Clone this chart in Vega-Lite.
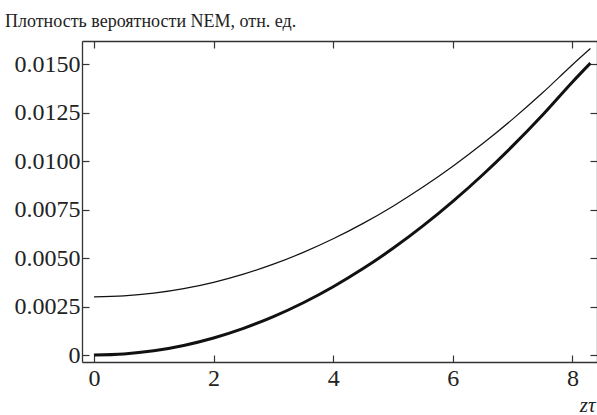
{
  "$schema": "https://vega.github.io/schema/vega-lite/v6.json",
  "width": 515,
  "height": 321,
  "autosize": "none",
  "padding": {"left": 82, "top": 41, "right": 0, "bottom": 53},
  "background": "white",
  "title": {
    "text": "Плотность вероятности NEM, отн. ед.",
    "anchor": "start",
    "frame": "group",
    "dx": -77,
    "offset": -5,
    "baseline": "alphabetic",
    "font": "Liberation Serif",
    "fontSize": 18,
    "fontWeight": "normal",
    "color": "#222"
  },
  "config": {
    "view": {"stroke": null},
    "axis": {
      "grid": false,
      "domainColor": "#333",
      "domainWidth": 1.3,
      "tickColor": "#333",
      "tickWidth": 1.2,
      "tickSize": -7,
      "labelFont": "Liberation Serif",
      "labelFontSize": 24,
      "labelColor": "#222",
      "titleFont": "Liberation Serif",
      "titleFontWeight": "normal",
      "titleColor": "#222"
    }
  },
  "data": {
    "values": [
      {"x": 0, "y": 0, "s": "thick"},
      {"x": 0.5, "y": 0.000055, "s": "thick"},
      {"x": 1, "y": 0.00022, "s": "thick"},
      {"x": 1.5, "y": 0.000495, "s": "thick"},
      {"x": 2, "y": 0.00088, "s": "thick"},
      {"x": 2.5, "y": 0.001375, "s": "thick"},
      {"x": 3, "y": 0.00198, "s": "thick"},
      {"x": 3.5, "y": 0.002695, "s": "thick"},
      {"x": 4, "y": 0.00352, "s": "thick"},
      {"x": 4.5, "y": 0.004455, "s": "thick"},
      {"x": 5, "y": 0.0055, "s": "thick"},
      {"x": 5.5, "y": 0.006655, "s": "thick"},
      {"x": 6, "y": 0.00792, "s": "thick"},
      {"x": 6.5, "y": 0.009295, "s": "thick"},
      {"x": 7, "y": 0.01078, "s": "thick"},
      {"x": 7.5, "y": 0.012375, "s": "thick"},
      {"x": 8, "y": 0.01408, "s": "thick"},
      {"x": 8.3, "y": 0.01505, "s": "thick"},
      {"x": 0, "y": 0.003, "s": "thin"},
      {"x": 0.5, "y": 0.003047, "s": "thin"},
      {"x": 1, "y": 0.003187, "s": "thin"},
      {"x": 1.5, "y": 0.003421, "s": "thin"},
      {"x": 2, "y": 0.003748, "s": "thin"},
      {"x": 2.5, "y": 0.004169, "s": "thin"},
      {"x": 3, "y": 0.004683, "s": "thin"},
      {"x": 3.5, "y": 0.005291, "s": "thin"},
      {"x": 4, "y": 0.005992, "s": "thin"},
      {"x": 4.5, "y": 0.006787, "s": "thin"},
      {"x": 5, "y": 0.007675, "s": "thin"},
      {"x": 5.5, "y": 0.008657, "s": "thin"},
      {"x": 6, "y": 0.009732, "s": "thin"},
      {"x": 6.5, "y": 0.010901, "s": "thin"},
      {"x": 7, "y": 0.012163, "s": "thin"},
      {"x": 7.5, "y": 0.013519, "s": "thin"},
      {"x": 8, "y": 0.014968, "s": "thin"},
      {"x": 8.3, "y": 0.0158, "s": "thin"}
    ]
  },
  "encoding": {
    "x": {"field": "x", "type": "quantitative", "scale": {"domain": [-0.2, 8.41], "nice": false, "zero": false}},
    "y": {"field": "y", "type": "quantitative", "scale": {"domain": [-0.00036, 0.01619], "nice": false, "zero": false}}
  },
  "layer": [
    {
      "mark": {"type": "line", "color": "#111", "strokeCap": "butt", "interpolate": "monotone"},
      "encoding": {
        "detail": {"field": "s"},
        "strokeWidth": {"field": "s", "type": "nominal", "scale": {"domain": ["thin", "thick"], "range": [1.2, 3]}, "legend": null},
        "x": {"field": "x", "type": "quantitative", "axis": {"orient": "bottom", "values": [0, 2, 4, 6, 8], "labelPadding": 11, "title": "zτ", "titleFontStyle": "italic", "titleFontSize": 21, "titleX": 513, "titleY": 49, "titleAlign": "right", "titleAnchor": null, "titleBaseline": "alphabetic"}},
        "y": {"field": "y", "type": "quantitative", "axis": {"orient": "left", "values": [0, 0.0025, 0.005, 0.0075, 0.01, 0.0125, 0.015], "labelExpr": "datum.value == 0 ? '0' : format(datum.value, '.4f')", "labelPadding": 9, "title": null}}
      }
    },
    {
      "mark": {"type": "point", "opacity": 0},
      "encoding": {
        "x": {"field": "x", "type": "quantitative", "axis": {"orient": "top", "values": [0, 2, 4, 6, 8], "labels": false, "title": null}},
        "y": {"field": "y", "type": "quantitative", "axis": {"orient": "right", "values": [0, 0.0025, 0.005, 0.0075, 0.01, 0.0125, 0.015], "labels": false, "title": null}}
      }
    }
  ],
  "resolve": {"axis": {"x": "independent", "y": "independent"}}
}
